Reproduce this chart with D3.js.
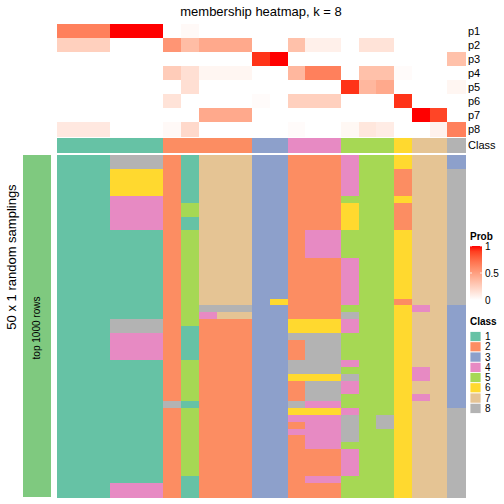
<!DOCTYPE html>
<html><head><meta charset="utf-8">
<script src="https://cdn.jsdelivr.net/npm/d3@7"></script>
<style>body{margin:0;background:#fff}svg{display:block;font-family:"Liberation Sans",Arial,sans-serif}</style>
</head><body><svg id="c" width="504" height="504"></svg>
<script>
// ---- data ----
const probLabels = ["p1","p2","p3","p4","p5","p6","p7","p8"];
const columnClass = [1,1,1,1,1,1,2,2,2,2,2,3,3,4,4,4,5,5,5,6,7,7,8];
const p1 = [0.65,0.65,0.65,1,1,1,0,0.03,0,0,0,0,0,0,0,0,0,0,0,0,0,0,0];
const p2 = [0.25,0.25,0.25,0,0,0,0.55,0.35,0.45,0.45,0.45,0,0,0.33,0.08,0.08,0,0.15,0.15,0,0,0,0];
const p3 = [0,0,0,0,0,0,0,0,0,0,0,0.93,1,0,0,0,0,0,0,0,0,0,0.33];
const p4 = [0,0,0,0,0,0,0.27,0.17,0.05,0.05,0.05,0,0,0.38,0.65,0.65,0,0.33,0.33,0.02,0,0,0];
const p5 = [0,0,0,0,0,0,0,0.17,0,0,0,0,0,0,0,0,0.93,0.38,0.45,0,0,0,0.05];
const p6 = [0,0,0,0,0,0,0.15,0,0,0,0,0.02,0,0.25,0.25,0.25,0,0,0,0.93,0,0,0];
const p7 = [0,0,0,0,0,0,0,0,0.45,0.45,0.45,0,0,0,0,0,0,0,0,0,1,0.88,0];
const p8 = [0.12,0.12,0.12,0,0,0,0.03,0.2,0,0,0,0,0,0.02,0,0,0.04,0.13,0.1,0,0,0.07,0.65];
const probRows = [p1,p2,p3,p4,p5,p6,p7,p8];
// 50 samplings x 23 columns, class per cell
const samplings = [
"11188821777332224556773","11188821777332224556773",
"11166621777332224552778","11166621777332224552778","11166621777332224552778","11166621777332224552778",
"11144421777332225556778",
"11144425777332226552778","11144425777332226552778",
"11144421777332226552778","11144421777332226552778",
"11111125777332445556778","11111125777332445556778","11111125777332445556778","11111125777332445556778",
"11111125777332224556778","11111125777332224556778","11111125777332224556778","11111125777332224556778",
"11111125777332224556778","11111125777332224556778",
"11111125777362224552778",
"11111125888332225556473",
"11111125477332228556773",
"11188825222336664556773",
"11188821222336664556773",
"11144421222338885556773",
"11144421222332885556773","11144421222332885556773","11144421222332885556773",
"11111125222338884556773",
"11111125222338885556473",
"11111125222336668556473",
"11111125222332884556773","11111125222332884556773",
"11111125222332885556473",
"11111181222338445556773",
"11111125222336664556778",
"11111125222334448586778",
"11111125222332448586778",
"11111125222334448556778",
"11111125222332448556778",
"11111125222332445556778",
"11111125222332224556778","11111125222332224556778","11111125222332224556778","11111125222332224556778",
"11111121222332445556778",
"11144421222332225556778","11144421222332225556778"
];
const classLabels = ["1","2","3","4","5","6","7","8"];
const classColors = ["#66C2A5","#FC8D62","#8DA0CB","#E78AC3","#A6D854","#FFD92F","#E5C494","#B3B3B3"];
const probTicks = [0, 0.5, 1];

// ---- drawing ----
const svg = d3.select("#c");
const nCol = columnClass.length;
const x = d3.scaleBand().domain(d3.range(nCol)).range([57, 465]);
const yTop = d3.scaleBand().domain(probLabels).range([24, 136]);
const yMain = d3.scaleBand().domain(d3.range(samplings.length)).range([155, 497]);
const probColor = d3.scaleLinear().domain([0,1]).range(["#ffffff","#ff0000"]).interpolate(d3.interpolateLab);
const classColor = d3.scaleOrdinal().domain(classLabels).range(classColors);

// title
svg.append("text").attr("x", 261).attr("y", 16).attr("text-anchor","middle")
  .attr("font-size", 13).attr("fill","#000").text("membership heatmap, k = 8");

// probability rows
probRows.forEach((row, r) => {
  svg.append("g").attr("shape-rendering","crispEdges").selectAll("rect").data(row).join("rect")
    .attr("x", (d,i) => x(i)).attr("y", yTop(probLabels[r]))
    .attr("width", x.bandwidth()+0.6).attr("height", yTop.bandwidth()+0.6)
    .attr("fill", d => probColor(d));
});
// class annotation
svg.append("g").attr("shape-rendering","crispEdges").selectAll("rect").data(columnClass).join("rect")
  .attr("x", (d,i) => x(i)).attr("y", 138.3).attr("width", x.bandwidth()+0.6).attr("height", 14.4)
  .attr("fill", d => classColor(String(d)));

// row labels on right
const labG = svg.append("g").attr("font-size", 11).attr("fill","#000");
probLabels.forEach(l => labG.append("text").attr("x", 468).attr("y", yTop(l)+yTop.bandwidth()/2).attr("dy","0.35em").text(l));
labG.append("text").attr("x", 468).attr("y", 145.5).attr("dy","0.35em").text("Class");

// main heatmap
const cells = [];
samplings.forEach((s, r) => s.split("").forEach((c, i) => cells.push({r, i, c})));
svg.append("g").attr("shape-rendering","crispEdges").selectAll("rect").data(cells).join("rect")
  .attr("x", d => x(d.i)).attr("y", d => yMain(d.r))
  .attr("width", x.bandwidth()+0.6).attr("height", yMain.bandwidth()+0.6)
  .attr("fill", d => classColor(d.c));

// left annotation
svg.append("rect").attr("x", 23).attr("y", 155).attr("width", 28).attr("height", 342).attr("fill", "#7FC97F");
svg.append("text").attr("transform","translate(39.5,328) rotate(-90)").attr("text-anchor","middle")
  .attr("font-size", 10).attr("fill","#000").text("top 1000 rows");
svg.append("text").attr("transform","translate(16,257) rotate(-90)").attr("text-anchor","middle")
  .attr("font-size", 13).attr("fill","#000").text("50 x 1 random samplings");

// legend: Prob
const lg = svg.append("g");
lg.append("text").attr("x", 470).attr("y", 240).attr("font-size", 10).attr("font-weight","bold").text("Prob");
const defs = svg.append("defs");
const grad = defs.append("linearGradient").attr("id","pg").attr("x1",0).attr("y1",1).attr("x2",0).attr("y2",0);
d3.range(0, 1.0001, 0.1).forEach(t => grad.append("stop").attr("offset", t).attr("stop-color", probColor(t)));
const yLeg = d3.scaleLinear().domain([0,1]).range([300, 246]);
lg.append("rect").attr("x", 470).attr("y", yLeg(1)).attr("width", 12).attr("height", yLeg(0)-yLeg(1)).attr("fill","url(#pg)");
probTicks.forEach(t => {
  lg.append("line").attr("x1",470).attr("x2",472).attr("y1",yLeg(t)).attr("y2",yLeg(t)).attr("stroke","#fff").attr("stroke-width",0.8);
  lg.append("line").attr("x1",480).attr("x2",482).attr("y1",yLeg(t)).attr("y2",yLeg(t)).attr("stroke","#fff").attr("stroke-width",0.8);
  lg.append("text").attr("x", 485).attr("y", yLeg(t)).attr("dy","0.35em").attr("font-size",10).text(String(t));
});
// legend: Class
lg.append("text").attr("x", 470).attr("y", 325).attr("font-size", 10).attr("font-weight","bold").text("Class");
const yCls = d3.scaleBand().domain(classLabels).range([331.5, 413.5]);
classLabels.forEach(l => {
  lg.append("rect").attr("x", 470).attr("y", yCls(l)).attr("width", 11).attr("height", yCls.bandwidth()).attr("fill", classColor(l)).attr("stroke","#fff").attr("stroke-width",0.8);
  lg.append("text").attr("x", 485).attr("y", yCls(l)+yCls.bandwidth()/2).attr("dy","0.35em").attr("font-size",10).text(l);
});
</script></body></html>
